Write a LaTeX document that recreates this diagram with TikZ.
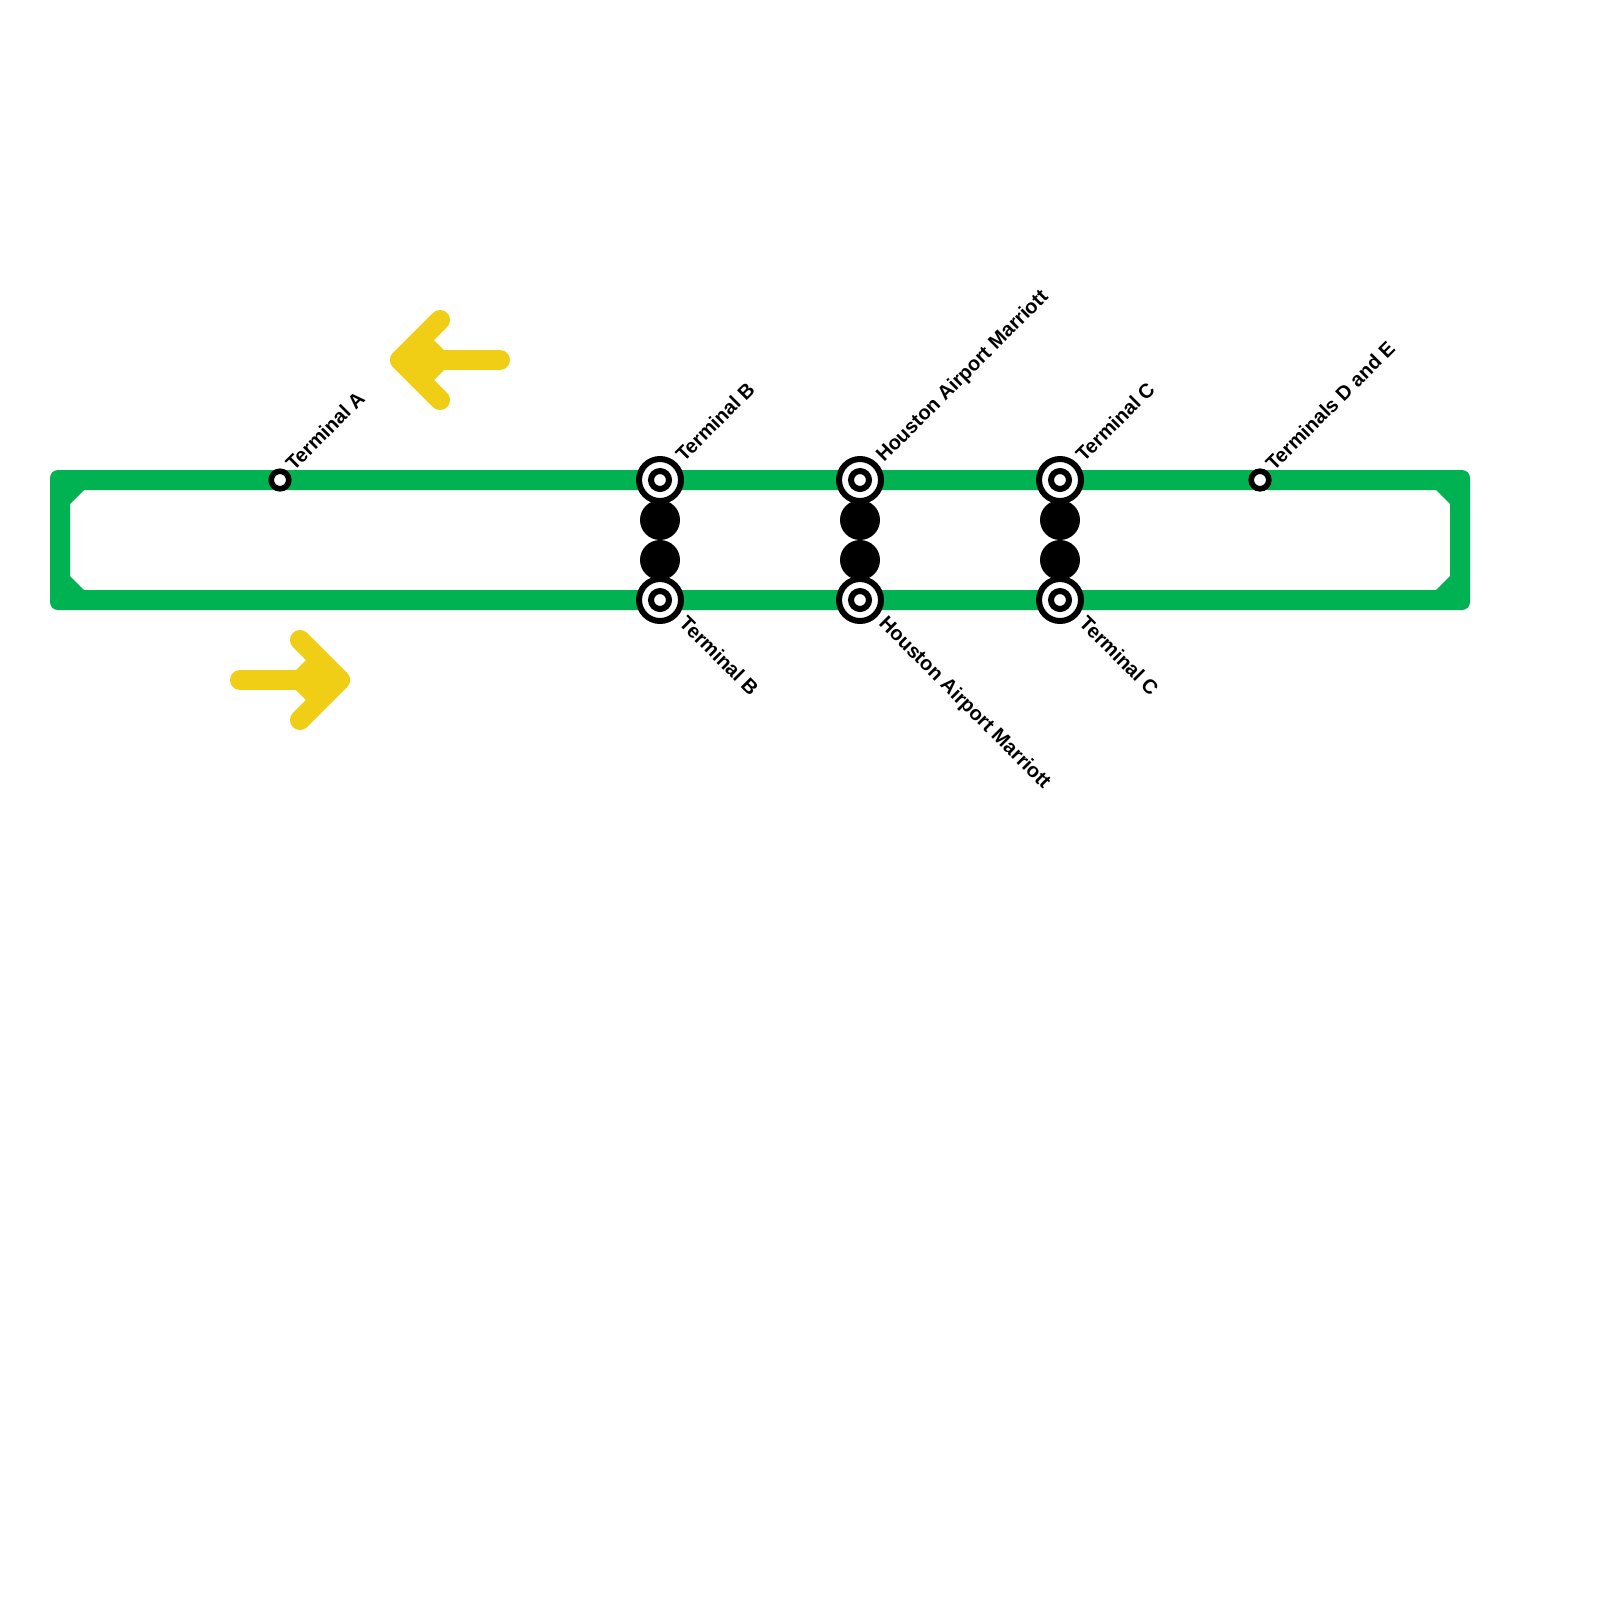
\documentclass[tikz,border=0pt]{standalone}
\usepackage{fontspec}
\setmainfont{Liberation Sans}
\definecolor{lineg}{HTML}{00B251}
\definecolor{liney}{HTML}{F0CE15}
\tikzset{x=0.05cm,y=-0.05cm,
 lab/.style={font=\fontsize{28.45pt}{30pt}\selectfont\bfseries,text=black,inner sep=0pt},
 labu/.style={lab,rotate=45,anchor=base west},
 labd/.style={lab,rotate=-45,anchor=base west},
 smallst/.style={circle,draw=black,fill=white,line width=0.28cm,minimum size=0.88cm,inner sep=0pt},
 ringo/.style={circle,draw=black,fill=white,line width=0.3cm,minimum size=2.1cm,inner sep=0pt},
 ringi/.style={circle,draw=black,fill=white,line width=0.3cm,minimum size=0.9cm,inner sep=0pt},
 disc/.style={circle,fill=black,minimum size=2cm,inner sep=0pt},
 yarm/.style={draw=liney,line width=1cm,line cap=round,line join=round},
}
\begin{document}
\begin{tikzpicture}
\useasboundingbox (0,0) rectangle (1600,1600);
\fill[white] (0,0) rectangle (1600,1600);
% green loop
\fill[lineg,even odd rule,rounded corners=0pt]
 [rounded corners=0.4cm] (50,470) -- (1470,470) -- (1470,610) -- (50,610) -- cycle
 [rounded corners=0pt] (84,490) -- (70,504) -- (70,576) -- (84,590) -- (1436,590) -- (1450,576) -- (1450,504) -- (1436,490) -- cycle;
% arrows
\coordinate (la) at (400,360); \coordinate (laU) at (440,320); \coordinate (laD) at (440,400); \coordinate (laE) at (500,360);
\draw[yarm] (laU) -- (la) -- (laD);
\draw[yarm] (la) -- (laE);
\fill[liney] (la) -- (434,340) -- (444,350) -- (444,370) -- (434,380) -- cycle;
\coordinate (ra) at (340,680); \coordinate (raU) at (300,640); \coordinate (raD) at (300,720); \coordinate (raE) at (240,680);
\draw[yarm] (raU) -- (ra) -- (raD);
\draw[yarm] (ra) -- (raE);
\fill[liney] (ra) -- (306,660) -- (296,670) -- (296,690) -- (306,700) -- cycle;
% stations
\node[smallst] (sa) at (280,480) {};
\node[smallst] (sd) at (1260,480) {};
\foreach \n/\x in {b/660,h/860,c/1060}{
 \node[disc] (\n1) at (\x,520) {};
 \node[disc] (\n2) at (\x,560) {};
 \node[ringo] (\n t) at (\x,480) {};
 \node[ringi] (\n ti) at (\x,480) {};
 \node[ringo] (\n u) at (\x,600) {};
 \node[ringi] (\n ui) at (\x,600) {};
}
% labels
\node[labu] (la1) at (294,472) {Terminal A};
\node[labu] (la2) at (684,463) {Terminal B};
\node[labu] (la3) at (884,463) {Houston Airport Marriott};
\node[labu] (la4) at (1084,463) {Terminal C};
\node[labu] (la5) at (1274,472) {Terminals D and E};
\node[labd] (ld1) at (678,624.5) {Terminal B};
\node[labd] (ld2) at (878,624.5) {Houston Airport Marriott};
\node[labd] (ld3) at (1078,624.5) {Terminal C};
\end{tikzpicture}
\end{document}
